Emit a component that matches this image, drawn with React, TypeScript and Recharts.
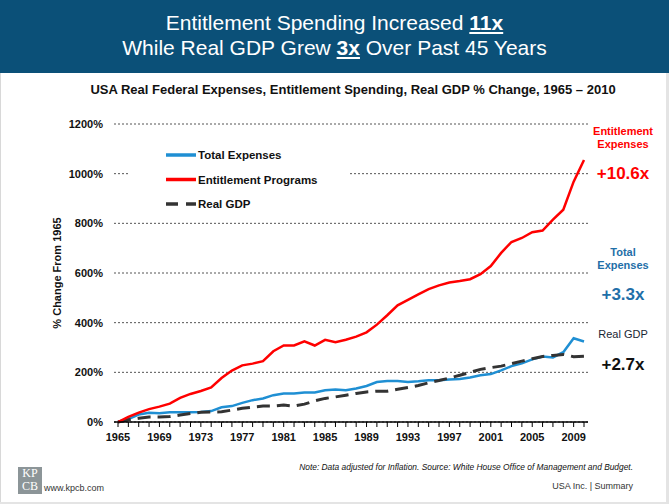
import React from "react";
import { LineChart, Line, XAxis, YAxis, CartesianGrid, Legend } from "recharts";

const years = [
  1965, 1966, 1967, 1968, 1969, 1970, 1971, 1972, 1973, 1974, 1975, 1976, 1977, 1978, 1979, 1980,
  1981, 1982, 1983, 1984, 1985, 1986, 1987, 1988, 1989, 1990, 1991, 1992, 1993, 1994, 1995, 1996,
  1997, 1998, 1999, 2000, 2001, 2002, 2003, 2004, 2005, 2006, 2007, 2008, 2009, 2010,
];

// % change from 1965
const totalExpenses = [
  0, 12, 30, 37, 35, 39, 39, 39, 40, 44, 59, 64, 77, 88, 95, 108,
  115, 115, 119, 119, 128, 131, 128, 135, 145, 161, 165, 165, 161, 164, 168, 168,
  171, 173, 179, 188, 193, 208, 225, 236, 252, 264, 260, 281, 337, 324,
];

const entitlementPrograms = [
  0, 21, 38, 52, 62, 74, 97, 113, 125, 139, 177, 207, 228, 235, 245, 285,
  308, 308, 325, 308, 331, 321, 331, 344, 361, 392, 430, 470, 492, 514, 535, 550,
  562, 568, 575, 595, 628, 681, 725, 741, 764, 771, 815, 855, 968, 1055,
];

const realGdp = [
  0, 9, 15, 20, 20, 22, 28, 34, 39, 40, 41, 48, 55, 60, 64, 64,
  68, 64, 72, 85, 95, 101, 108, 115, 121, 124, 124, 132, 139, 147, 158, 167,
  177, 188, 200, 212, 219, 225, 235, 245, 255, 264, 268, 272, 263, 265,
];

const yTicks = [0, 200, 400, 600, 800, 1000, 1200];

const data = years.map((year, i) => ({
  year,
  total: totalExpenses[i],
  entitlement: entitlementPrograms[i],
  gdp: realGdp[i],
}));

const FONT = "'Liberation Sans', Arial, sans-serif";
const RED = "#ff0000";
const BLUE = "#1f8fd3";
const DARK = "#333333";
const TEXT_BLUE = "#1f6fa8";

const legendRows = [
  { key: "total", label: "Total Expenses", color: BLUE, dash: undefined },
  { key: "entitlement", label: "Entitlement Programs", color: RED, dash: undefined },
  { key: "gdp", label: "Real GDP", color: DARK, dash: "12 8" },
];

function ChartLegend() {
  return (
    <svg width={222} height={80}>
      {legendRows.map((r, i) => (
        <g key={r.key} transform={`translate(0, ${18 + i * 24.5})`}>
          <line x1={38} x2={68} y1={0} y2={0} stroke={r.color} strokeWidth={3.5} strokeDasharray={r.dash} />
          <text x={70} y={0} dy="0.35em" fontFamily={FONT} fontSize={11.5} fontWeight="bold" fill="#111">
            {r.label}
          </text>
        </g>
      ))}
    </svg>
  );
}

function YTitle(props: any) {
  const { viewBox } = props;
  const x = viewBox.x + 3;
  const y = viewBox.y + viewBox.height / 2;
  return (
    <text x={x} y={y} transform={`rotate(-90, ${x}, ${y})`} textAnchor="middle" dominantBaseline="central"
      fontFamily={FONT} fontSize={11} fontWeight="bold" fill="#111">
      % Change From 1965
    </text>
  );
}

const abs = (style: React.CSSProperties): React.CSSProperties => ({ position: "absolute", fontFamily: FONT, ...style });

function Note({ top, color, size, bold, children }: { top: number; color: string; size: number; bold?: boolean; children: React.ReactNode }) {
  return (
    <div style={abs({ left: 573, width: 100, top, textAlign: "center", color, fontSize: size, fontWeight: bold ? "bold" : "normal", lineHeight: `${size + 1.5}px` })}>
      {children}
    </div>
  );
}

export default function App() {
  return (
    <div style={abs({ left: 0, top: 0, width: 669, height: 504, background: "#e4e4e4", overflow: "hidden" })}>
      <div style={abs({ left: 0, top: 0, width: 666, height: 502, background: "#fff", borderLeft: "1px solid #d8d8d8", boxSizing: "border-box" })} />
      <div style={abs({ left: 0, top: 0, width: 669, height: 73, background: "#0b5078", color: "#fff", textAlign: "center", fontSize: 21, lineHeight: "25px", paddingTop: 10, boxSizing: "border-box" })}>
        <div>Entitlement Spending Increased <b style={{ textDecoration: "underline" }}>11x</b></div>
        <div>While Real GDP Grew <b style={{ textDecoration: "underline" }}>3x</b> Over Past 45 Years</div>
      </div>
      <div style={abs({ left: 40, width: 626, top: 82, textAlign: "center", fontSize: 13, fontWeight: "bold", color: "#111", lineHeight: "16px" })}>
        USA Real Federal Expenses, Entitlement Spending, Real GDP % Change, 1965 – 2010
      </div>

      <div style={abs({ left: 0, top: 0 })}>
        <LineChart width={669} height={504} data={data} margin={{ top: 124, right: 81, bottom: 52, left: 54 }}>
          <CartesianGrid vertical={false} stroke="#555" strokeDasharray="2 2" />
          <XAxis
            dataKey="year"
            interval={0}
            height={30}
            padding={{ left: 4, right: 4 }}
            tickSize={5}
            tickMargin={6}
            tickFormatter={(y: number) => ((y - 1965) % 4 === 0 ? String(y) : "")}
            tick={{ fontFamily: FONT, fontSize: 11, fontWeight: "bold", fill: "#111" }}
            tickLine={{ stroke: "#000" }}
            axisLine={{ stroke: "#000", strokeWidth: 1.5 }}
          />
          <YAxis
            width={60}
            domain={[0, 1200]}
            ticks={yTicks}
            axisLine={false}
            tickLine={false}
            tickSize={0}
            tickMargin={11}
            tickFormatter={(v: number) => `${v}%`}
            tick={{ fontFamily: FONT, fontSize: 11, fontWeight: "bold", fill: "#111" }}
            label={<YTitle />}
          />
          <Legend
            layout="vertical"
            align="center"
            verticalAlign="middle"
            content={() => <ChartLegend />}
            wrapperStyle={{ left: 128, top: 137, width: 222, height: 80, background: "#fff" }}
          />
          <Line dataKey="total" name="Total Expenses" type="linear" stroke={BLUE} strokeWidth={2.5} dot={false} isAnimationActive={false} />
          <Line dataKey="gdp" name="Real GDP" type="linear" stroke={DARK} strokeWidth={3} strokeDasharray="13 7" dot={false} isAnimationActive={false} />
          <Line dataKey="entitlement" name="Entitlement Programs" type="linear" stroke={RED} strokeWidth={2.5} dot={false} isAnimationActive={false} />
        </LineChart>
      </div>

      <Note top={125} color={RED} size={11} bold>Entitlement<br />Expenses</Note>
      <Note top={165} color={RED} size={17} bold>+10.6x</Note>
      <Note top={246} color={TEXT_BLUE} size={11} bold>Total<br />Expenses</Note>
      <Note top={286} color={TEXT_BLUE} size={17} bold>+3.3x</Note>
      <Note top={328} color="#1a2633" size={11}>Real GDP</Note>
      <Note top={356} color="#111" size={17} bold>+2.7x</Note>

      <div style={abs({ left: 18, top: 467, width: 24, height: 27, background: "#8c9598", color: "#fff", fontFamily: "'Liberation Serif', serif", fontSize: 12, lineHeight: "13px", textAlign: "center", letterSpacing: 0 })}>
        KP<br />CB
      </div>
      <div style={abs({ left: 44, top: 483, fontSize: 9, color: "#333" })}>www.kpcb.com</div>
      <div style={abs({ right: 36, top: 462, fontSize: 8.4, fontStyle: "italic", color: "#111" })}>
        Note: Data adjusted for Inflation. Source: White House Office of Management and Budget.
      </div>
      <div style={abs({ right: 36, top: 481, fontSize: 9, color: "#333" })}>USA Inc. | Summary</div>
    </div>
  );
}
